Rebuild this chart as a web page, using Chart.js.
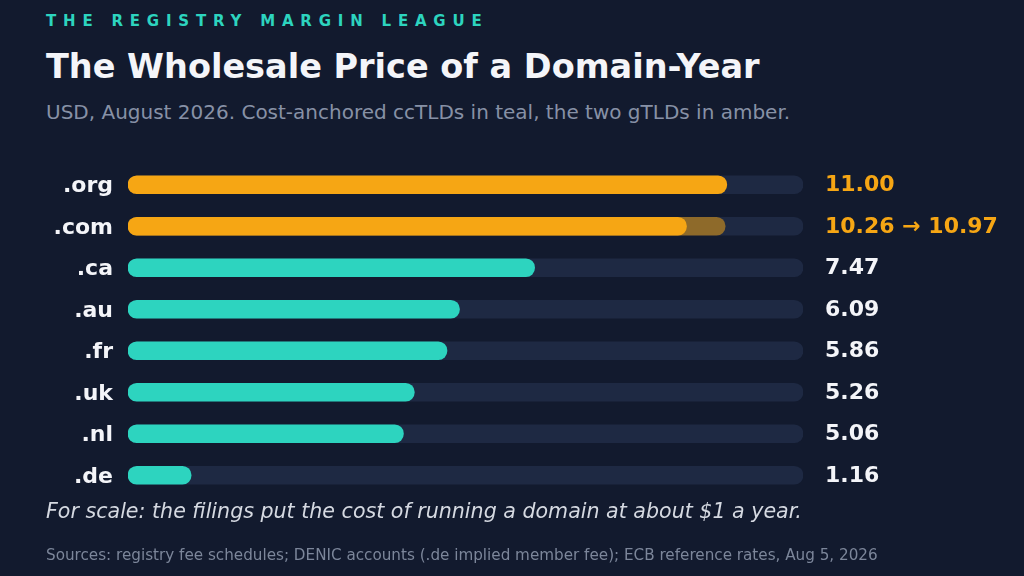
<!DOCTYPE html>
<html>
<head>
<meta charset="utf-8">
<script src="https://cdn.jsdelivr.net/npm/chart.js@4.4.1/dist/chart.umd.min.js"></script>
<style>
  html, body { margin: 0; padding: 0; background: #121a2e; }
  body { width: 1024px; height: 576px; position: relative; overflow: hidden; font-family: "DejaVu Sans", sans-serif; }
  .txt { position: absolute; left: 46px; white-space: nowrap; }
  #kicker { top: 12px; font-size: 15px; font-weight: bold; letter-spacing: 6.8px; color: #2dd4bf; }
  #title { top: 47px; font-size: 33.5px; font-weight: bold; color: #f4f5f9; }
  #sub { top: 100px; font-size: 20px; color: #8791a6; }
  #note { top: 499px; font-size: 20.6px; font-style: italic; color: #d5d9e1; }
  #src { top: 546px; font-size: 15.2px; color: #7c869a; }
  #wrap { position: absolute; left: 0; top: 0; width: 1024px; height: 576px; }
</style>
</head>
<body>
<div class="txt" id="kicker">THE REGISTRY MARGIN LEAGUE</div>
<div class="txt" id="title">The Wholesale Price of a Domain-Year</div>
<div class="txt" id="sub">USD, August 2026. Cost-anchored ccTLDs in teal, the two gTLDs in amber.</div>
<div id="wrap"><canvas id="chart"></canvas></div>
<div class="txt" id="note">For scale: the filings put the cost of running a domain at about $1 a year.</div>
<div class="txt" id="src">Sources: registry fee schedules; DENIC accounts (.de implied member fee); ECB reference rates, Aug 5, 2026</div>

<script>
var tlds = [".org", ".com", ".ca", ".au", ".fr", ".uk", ".nl", ".de"];
var prices = [11.00, 10.26, 7.47, 6.09, 5.86, 5.26, 5.06, 1.16];
var proposed = [null, 10.97, null, null, null, null, null, null];
var isGtld = [true, true, false, false, false, false, false, false];
var valueLabels = ["11.00", "10.26 \u2192 10.97", "7.47", "6.09", "5.86", "5.26", "5.06", "1.16"];
var axisMax = 12.4;

var TEAL = "#2dd4bf";
var AMBER = "#f6a614";
var GHOST = "rgba(246, 166, 20, 0.52)";
var TRACK = "#1e2943";

var valueText = {
  id: "valueText",
  afterDatasetsDraw: function (chart) {
    var ctx = chart.ctx;
    var y = chart.scales.y;
    ctx.save();
    ctx.font = "bold 22px 'DejaVu Sans', sans-serif";
    ctx.textBaseline = "middle";
    ctx.textAlign = "left";
    tlds.forEach(function (t, i) {
      ctx.fillStyle = isGtld[i] ? AMBER : "#f4f5f9";
      ctx.fillText(valueLabels[i], 825, y.getPixelForValue(i) + 1);
    });
    ctx.restore();
  }
};

new Chart(document.getElementById("chart").getContext("2d"), {
  type: "bar",
  data: {
    labels: tlds,
    datasets: [
      {
        label: "price",
        data: prices,
        backgroundColor: tlds.map(function (t, i) { return isGtld[i] ? AMBER : TEAL; }),
        borderRadius: 9,
        borderSkipped: false,
        barThickness: 18,
        order: 1
      },
      {
        label: "proposed",
        data: proposed,
        backgroundColor: GHOST,
        borderRadius: 9,
        borderSkipped: false,
        barThickness: 18,
        order: 2
      },
      {
        label: "track",
        data: tlds.map(function () { return axisMax; }),
        backgroundColor: TRACK,
        borderRadius: 9,
        borderSkipped: false,
        barThickness: 18,
        order: 3
      }
    ]
  },
  options: {
    indexAxis: "y",
    responsive: true,
    maintainAspectRatio: false,
    animation: false,
    layout: { padding: { top: 164, bottom: 80, left: 0, right: 221 } },
    scales: {
      x: { display: false, min: 0, max: axisMax, stacked: false },
      y: {
        stacked: true,
        grid: { display: false },
        border: { display: false },
        afterFit: function (s) { s.width = 128; },
        ticks: {
          color: "#f4f5f9",
          padding: 7,
          labelOffset: 2,
          font: { family: "'DejaVu Sans', sans-serif", size: 22, weight: "bold" }
        }
      }
    },
    plugins: {
      legend: { display: false },
      tooltip: { enabled: false }
    }
  },
  plugins: [valueText]
});
</script>
</body>
</html>
